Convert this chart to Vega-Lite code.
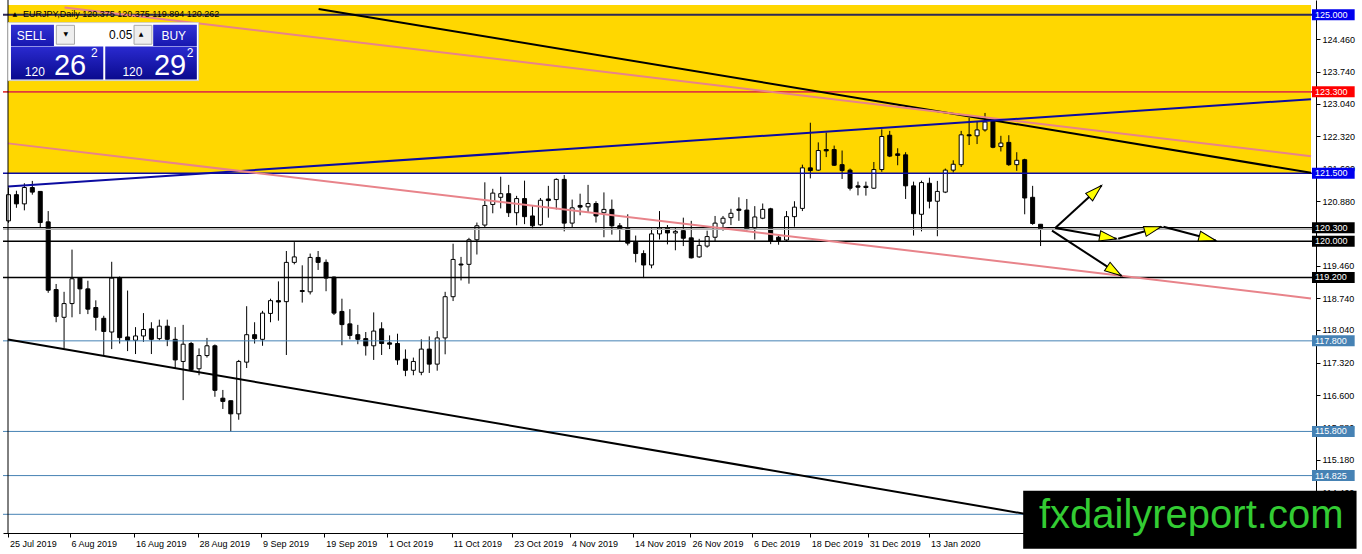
{
  "$schema": "https://vega.github.io/schema/vega-lite/v6.json",
  "width": 1313,
  "height": 533,
  "autosize": {"type": "none"},
  "padding": {"left": 3, "top": 0, "right": 46, "bottom": 21},
  "background": "white",
  "config": {
    "view": {"stroke": null},
    "font": "Liberation Sans",
    "axis": {
      "labelFont": "Liberation Sans",
      "labelFontSize": 9,
      "labelColor": "#000000",
      "tickColor": "#000000",
      "domainColor": "#000000",
      "tickSize": 4,
      "labelPadding": 2,
      "grid": false,
      "labelOverlap": false,
      "labelFlush": false
    }
  },
  "datasets": {
    "candles": [
      {"i":0,"o":120.450,"h":121.186,"l":120.406,"c":121.028},
      {"i":1,"o":121.028,"h":121.115,"l":120.738,"c":120.825},
      {"i":2,"o":120.825,"h":121.280,"l":120.682,"c":121.186},
      {"i":3,"o":121.186,"h":121.332,"l":121.028,"c":121.085},
      {"i":4,"o":121.100,"h":121.100,"l":120.305,"c":120.413},
      {"i":5,"o":120.428,"h":120.666,"l":118.861,"c":118.918},
      {"i":6,"o":118.933,"h":119.056,"l":118.211,"c":118.341},
      {"i":7,"o":118.320,"h":118.883,"l":117.633,"c":118.623},
      {"i":8,"o":118.623,"h":119.815,"l":118.320,"c":119.171},
      {"i":9,"o":119.186,"h":119.208,"l":118.391,"c":118.948},
      {"i":10,"o":118.948,"h":119.128,"l":118.391,"c":118.500},
      {"i":11,"o":118.536,"h":118.695,"l":118.029,"c":118.320},
      {"i":12,"o":118.298,"h":118.354,"l":117.488,"c":118.008},
      {"i":13,"o":117.995,"h":119.546,"l":117.618,"c":119.186},
      {"i":14,"o":119.186,"h":119.221,"l":117.741,"c":117.871},
      {"i":15,"o":117.886,"h":118.911,"l":117.574,"c":117.813},
      {"i":16,"o":117.813,"h":118.103,"l":117.509,"c":117.908},
      {"i":17,"o":117.908,"h":118.413,"l":117.778,"c":118.051},
      {"i":18,"o":118.066,"h":118.211,"l":117.509,"c":117.834},
      {"i":19,"o":117.850,"h":118.268,"l":117.813,"c":118.125},
      {"i":20,"o":118.125,"h":118.268,"l":117.683,"c":117.834},
      {"i":21,"o":117.834,"h":118.103,"l":117.200,"c":117.379},
      {"i":22,"o":117.345,"h":118.153,"l":116.491,"c":117.726},
      {"i":23,"o":117.741,"h":117.778,"l":117.128,"c":117.163},
      {"i":24,"o":117.184,"h":117.633,"l":117.041,"c":117.475},
      {"i":25,"o":117.475,"h":117.865,"l":117.431,"c":117.691},
      {"i":26,"o":117.691,"h":117.720,"l":116.565,"c":116.708},
      {"i":27,"o":116.534,"h":116.716,"l":116.296,"c":116.463},
      {"i":28,"o":116.478,"h":116.478,"l":115.791,"c":116.188},
      {"i":29,"o":116.188,"h":117.379,"l":116.058,"c":117.345},
      {"i":30,"o":117.330,"h":118.565,"l":117.200,"c":117.936},
      {"i":31,"o":117.936,"h":118.211,"l":117.741,"c":117.850},
      {"i":32,"o":117.834,"h":118.463,"l":117.691,"c":118.413},
      {"i":33,"o":118.406,"h":118.731,"l":118.211,"c":118.688},
      {"i":34,"o":118.688,"h":119.113,"l":118.246,"c":118.658},
      {"i":35,"o":118.666,"h":119.784,"l":117.488,"c":119.533},
      {"i":36,"o":119.533,"h":119.980,"l":119.490,"c":119.654},
      {"i":37,"o":118.911,"h":119.468,"l":118.645,"c":118.890},
      {"i":38,"o":118.883,"h":119.728,"l":118.825,"c":119.642},
      {"i":39,"o":119.642,"h":119.784,"l":119.366,"c":119.533},
      {"i":40,"o":119.533,"h":119.598,"l":118.896,"c":119.186},
      {"i":41,"o":119.208,"h":119.221,"l":118.370,"c":118.413},
      {"i":42,"o":118.450,"h":118.731,"l":117.704,"c":118.159},
      {"i":43,"o":118.175,"h":118.500,"l":117.834,"c":117.921},
      {"i":44,"o":117.936,"h":118.153,"l":117.726,"c":117.834},
      {"i":45,"o":117.850,"h":117.995,"l":117.475,"c":117.691},
      {"i":46,"o":117.691,"h":118.428,"l":117.379,"c":118.016},
      {"i":47,"o":118.066,"h":118.211,"l":117.488,"c":117.741},
      {"i":48,"o":117.756,"h":117.921,"l":117.618,"c":117.726},
      {"i":49,"o":117.741,"h":117.958,"l":117.271,"c":117.379},
      {"i":50,"o":117.395,"h":117.611,"l":117.020,"c":117.150},
      {"i":51,"o":117.150,"h":117.431,"l":117.041,"c":117.345},
      {"i":52,"o":117.106,"h":117.834,"l":117.041,"c":117.618},
      {"i":53,"o":117.618,"h":117.899,"l":117.091,"c":117.286},
      {"i":54,"o":117.286,"h":118.016,"l":117.141,"c":117.865},
      {"i":55,"o":117.865,"h":118.883,"l":117.503,"c":118.775},
      {"i":56,"o":118.775,"h":119.945,"l":118.679,"c":119.598},
      {"i":57,"o":119.496,"h":119.654,"l":119.134,"c":119.475},
      {"i":58,"o":119.490,"h":120.075,"l":119.063,"c":120.032},
      {"i":59,"o":120.032,"h":120.413,"l":119.707,"c":120.341},
      {"i":60,"o":120.357,"h":121.301,"l":120.292,"c":120.790},
      {"i":61,"o":120.812,"h":121.158,"l":120.617,"c":121.063},
      {"i":62,"o":120.970,"h":121.425,"l":120.725,"c":121.050},
      {"i":63,"o":121.050,"h":121.245,"l":120.536,"c":120.630},
      {"i":64,"o":120.630,"h":121.002,"l":120.352,"c":120.942},
      {"i":65,"o":120.942,"h":121.338,"l":120.378,"c":120.543},
      {"i":66,"o":120.558,"h":120.775,"l":120.283,"c":120.341},
      {"i":67,"o":120.363,"h":120.955,"l":120.341,"c":120.905},
      {"i":68,"o":120.933,"h":121.223,"l":120.521,"c":120.898},
      {"i":69,"o":120.920,"h":121.388,"l":120.703,"c":121.366},
      {"i":70,"o":121.366,"h":121.462,"l":120.218,"c":120.400},
      {"i":71,"o":120.400,"h":120.920,"l":120.305,"c":120.738},
      {"i":72,"o":120.790,"h":121.050,"l":120.573,"c":120.753},
      {"i":73,"o":120.760,"h":121.245,"l":120.630,"c":120.833},
      {"i":74,"o":120.833,"h":120.883,"l":120.413,"c":120.558},
      {"i":75,"o":120.630,"h":121.078,"l":120.088,"c":120.703},
      {"i":76,"o":120.703,"h":120.920,"l":120.146,"c":120.341},
      {"i":77,"o":120.341,"h":120.400,"l":119.995,"c":120.270},
      {"i":78,"o":120.283,"h":120.595,"l":119.908,"c":119.958},
      {"i":79,"o":119.980,"h":120.125,"l":119.533,"c":119.728},
      {"i":80,"o":119.728,"h":119.800,"l":119.186,"c":119.475},
      {"i":81,"o":119.475,"h":120.283,"l":119.403,"c":120.162},
      {"i":82,"o":120.162,"h":120.666,"l":120.038,"c":120.292},
      {"i":83,"o":120.292,"h":120.357,"l":119.930,"c":120.183},
      {"i":84,"o":120.183,"h":120.305,"l":119.800,"c":120.218},
      {"i":85,"o":120.233,"h":120.521,"l":119.893,"c":120.066},
      {"i":86,"o":120.075,"h":120.450,"l":119.620,"c":119.633},
      {"i":87,"o":119.654,"h":120.053,"l":119.633,"c":119.908},
      {"i":88,"o":119.893,"h":120.233,"l":119.858,"c":120.103},
      {"i":89,"o":120.088,"h":120.558,"l":119.995,"c":120.400},
      {"i":90,"o":120.400,"h":120.558,"l":120.233,"c":120.508},
      {"i":91,"o":120.521,"h":120.716,"l":120.357,"c":120.617},
      {"i":92,"o":120.710,"h":120.970,"l":120.450,"c":120.682},
      {"i":93,"o":120.688,"h":120.933,"l":120.233,"c":120.270},
      {"i":94,"o":120.292,"h":120.775,"l":120.038,"c":120.536},
      {"i":95,"o":120.508,"h":120.833,"l":120.487,"c":120.703},
      {"i":96,"o":120.716,"h":120.738,"l":119.936,"c":119.995},
      {"i":97,"o":120.088,"h":120.125,"l":119.923,"c":120.016},
      {"i":98,"o":120.027,"h":120.666,"l":120.006,"c":120.543},
      {"i":99,"o":120.543,"h":120.883,"l":120.320,"c":120.753},
      {"i":100,"o":120.725,"h":121.691,"l":120.666,"c":121.620},
      {"i":101,"o":121.620,"h":122.617,"l":121.388,"c":121.561},
      {"i":102,"o":121.570,"h":122.183,"l":121.555,"c":122.003},
      {"i":103,"o":122.025,"h":122.400,"l":121.858,"c":121.995},
      {"i":104,"o":122.025,"h":122.112,"l":121.663,"c":121.678},
      {"i":105,"o":121.691,"h":122.003,"l":121.375,"c":121.561},
      {"i":106,"o":121.570,"h":121.605,"l":121.121,"c":121.171},
      {"i":107,"o":121.223,"h":121.316,"l":121.013,"c":121.193},
      {"i":108,"o":121.215,"h":121.316,"l":121.007,"c":121.186},
      {"i":109,"o":121.171,"h":121.750,"l":121.158,"c":121.583},
      {"i":110,"o":121.583,"h":122.471,"l":121.533,"c":122.313},
      {"i":111,"o":122.341,"h":122.437,"l":121.858,"c":121.880},
      {"i":112,"o":121.930,"h":122.053,"l":121.678,"c":121.895},
      {"i":113,"o":121.908,"h":121.966,"l":120.933,"c":121.223},
      {"i":114,"o":121.223,"h":121.316,"l":120.125,"c":120.608},
      {"i":115,"o":120.595,"h":121.338,"l":120.218,"c":121.295},
      {"i":116,"o":121.280,"h":121.403,"l":120.725,"c":120.883},
      {"i":117,"o":120.883,"h":121.332,"l":120.110,"c":121.100},
      {"i":118,"o":121.085,"h":121.605,"l":121.063,"c":121.570},
      {"i":119,"o":121.570,"h":121.787,"l":121.518,"c":121.700},
      {"i":120,"o":121.691,"h":122.437,"l":121.641,"c":122.350},
      {"i":121,"o":122.350,"h":122.725,"l":122.125,"c":122.328},
      {"i":122,"o":122.328,"h":122.653,"l":122.146,"c":122.458},
      {"i":123,"o":122.458,"h":122.833,"l":122.421,"c":122.632},
      {"i":124,"o":122.653,"h":122.688,"l":122.053,"c":122.075},
      {"i":125,"o":122.090,"h":122.328,"l":121.982,"c":122.168},
      {"i":126,"o":122.183,"h":122.341,"l":121.663,"c":121.691},
      {"i":127,"o":121.691,"h":121.966,"l":121.555,"c":121.787},
      {"i":128,"o":121.800,"h":121.821,"l":120.595,"c":120.955},
      {"i":129,"o":120.970,"h":121.223,"l":120.363,"c":120.391},
      {"i":130,"o":120.375,"h":120.375,"l":119.894,"c":120.262}
    ],
    "levels": [
      {"p":125.000,"kind":"navy"},
      {"p":123.300,"kind":"red"},
      {"p":121.500,"kind":"blue"},
      {"p":120.300,"kind":"black"},
      {"p":120.262,"kind":"bid"},
      {"p":120.000,"kind":"black"},
      {"p":119.200,"kind":"black"},
      {"p":117.800,"kind":"steel"},
      {"p":115.800,"kind":"steel"},
      {"p":114.825,"kind":"steel"},
      {"p":113.970,"kind":"steel"}
    ],
    "trends": [
      {"kind":"black","i1":39.0625,"p1":125.130,"i2":164.0625,"p2":121.511},
      {"kind":"pink","i1":7.0625,"p1":125.163,"i2":164.0625,"p2":121.878},
      {"kind":"blue","i1":-0.0625,"p1":121.208,"i2":164.0625,"p2":123.137},
      {"kind":"pink","i1":-0.0625,"p1":122.161,"i2":164.0625,"p2":118.738},
      {"kind":"black","i1":-0.0625,"p1":117.828,"i2":129.5625,"p2":113.934}
    ],
    "arrows": [
      {"i1":131.85,"p1":120.291,"i2":137.69,"p2":121.230},
      {"i1":131.85,"p1":120.291,"i2":139.56,"p2":120.053},
      {"i1":139.78,"p1":120.053,"i2":145.19,"p2":120.320},
      {"i1":145.48,"p1":120.320,"i2":152.06,"p2":120.016},
      {"i1":131.44,"p1":120.233,"i2":140.19,"p2":119.236}
    ],
    "panel": [
      {"part":"bg","x1":-0.0625,"x2":23.9375,"p1":124.827,"p2":123.548},
      {"part":"btn","x1":0.3125,"x2":5.725,"p1":124.783,"p2":124.313},
      {"part":"btn","x1":18.225,"x2":23.725,"p1":124.783,"p2":124.313},
      {"part":"spin","x1":6.025,"x2":8.3125,"p1":124.768,"p2":124.350},
      {"part":"spin","x1":15.8125,"x2":18.0625,"p1":124.768,"p2":124.350},
      {"part":"quote","x1":0.3125,"x2":11.9375,"p1":124.300,"p2":123.570},
      {"part":"quote","x1":12.1875,"x2":23.725,"p1":124.300,"p2":123.570}
    ],
    "paneltext": [
      {"role":"btn","x":2.875,"p":124.534,"t":"SELL"},
      {"role":"btn","x":20.8125,"p":124.534,"t":"BUY"},
      {"role":"lot","x":15.6,"p":124.545,"t":"0.05"},
      {"role":"spin","x":7.225,"p":124.567,"t":"▼"},
      {"role":"spin","x":16.6875,"p":124.567,"t":"▲"},
      {"role":"small","x":2.0625,"p":123.641,"t":"120"},
      {"role":"small","x":14.35,"p":123.641,"t":"120"},
      {"role":"big","x":5.725,"p":123.663,"t":"26"},
      {"role":"big","x":18.3125,"p":123.663,"t":"29"},
      {"role":"sup","x":10.4,"p":124.075,"t":"2"},
      {"role":"sup","x":22.45,"p":124.075,"t":"2"}
    ]
  },
  "layer": [
    {
      "data": {"values": [{}]},
      "mark": {"type": "rect", "color": "#ffd700"},
      "encoding": {
        "x": {
          "datum": -0.0625, "type": "quantitative",
          "scale": {"domain": [-0.0625, 164.0625], "nice": false, "zero": false},
          "axis": {
            "orient": "bottom",
            "title": null,
            "values": [-0.05, 7.69, 15.81, 23.81, 31.81, 39.78, 47.69, 55.81, 63.44, 70.73, 78.65, 85.9, 93.65, 100.94, 108.23, 115.94],
            "labelExpr": "['25 Jul 2019','6 Aug 2019','16 Aug 2019','28 Aug 2019','9 Sep 2019','19 Sep 2019','1 Oct 2019','11 Oct 2019','23 Oct 2019','4 Nov 2019','14 Nov 2019','26 Nov 2019','6 Dec 2019','18 Dec 2019','31 Dec 2019','13 Jan 2020'][indexof([-0.05, 7.69, 15.81, 23.81, 31.81, 39.78, 47.69, 55.81, 63.44, 70.73, 78.65, 85.9, 93.65, 100.94, 108.23, 115.94], datum.value)]",
            "labelAlign": "left",
            "labelBaseline": "top",
            "labelOffset": 1.5
          }
        },
        "x2": {"datum": 164.0625},
        "y": {
          "datum": 125.2167, "type": "quantitative",
          "scale": {"domain": [113.6674, 125.2167], "nice": false, "zero": false},
          "axis": {
            "orient": "right",
            "title": null,
            "values": [124.46, 123.74, 123.04, 122.32, 121.6, 120.88, 119.46, 118.74, 118.04, 117.32, 116.6, 115.88, 115.18, 114.46],
            "format": ".3f",
            "labelAlign": "left",
            "labelBaseline": "middle"
          }
        },
        "y2": {"datum": 121.5}
      }
    },
    {
      "data": {"name": "candles"},
      "mark": {"type": "rule", "color": "#000000", "strokeWidth": 1, "clip": true},
      "encoding": {
        "x": {"field": "i", "type": "quantitative", "scale": {"domain": [-0.0625, 164.0625], "nice": false, "zero": false}},
        "y": {"field": "l", "type": "quantitative", "scale": {"domain": [113.6674, 125.2167], "nice": false, "zero": false}},
        "y2": {"field": "h"}
      }
    },
    {
      "data": {"name": "candles"},
      "mark": {"type": "bar", "size": 4, "stroke": "#000000", "strokeWidth": 1, "clip": true},
      "encoding": {
        "x": {"field": "i", "type": "quantitative", "scale": {"domain": [-0.0625, 164.0625], "nice": false, "zero": false}},
        "y": {"field": "o", "type": "quantitative", "scale": {"domain": [113.6674, 125.2167], "nice": false, "zero": false}},
        "y2": {"field": "c"},
        "fill": {"condition": {"test": "datum.c > datum.o", "value": "#ffffff"}, "value": "#000000"}
      }
    },
    {
      "data": {"name": "levels"},
      "mark": {"type": "rule"},
      "encoding": {
        "y": {"field": "p", "type": "quantitative", "scale": {"domain": [113.6674, 125.2167], "nice": false, "zero": false}},
        "stroke": {"field": "kind", "type": "nominal", "legend": null,
          "scale": {"domain": ["navy", "red", "blue", "black", "bid", "steel"], "range": ["#2e2a55", "#e03c3c", "#0c0ca0", "#000000", "#b4b4b4", "#4682b4"]}},
        "strokeWidth": {"field": "kind", "type": "nominal", "legend": null,
          "scale": {"domain": ["navy", "red", "blue", "black", "bid", "steel"], "range": [2, 1, 2, 1, 1, 1]}}
      }
    },
    {
      "data": {"name": "trends"},
      "mark": {"type": "rule", "strokeWidth": 2, "clip": true},
      "encoding": {
        "x": {"field": "i1", "type": "quantitative", "scale": {"domain": [-0.0625, 164.0625], "nice": false, "zero": false}},
        "x2": {"field": "i2"},
        "y": {"field": "p1", "type": "quantitative", "scale": {"domain": [113.6674, 125.2167], "nice": false, "zero": false}},
        "y2": {"field": "p2"},
        "color": {"field": "kind", "type": "nominal", "legend": null,
          "scale": {"domain": ["black", "pink", "blue"], "range": ["#000000", "#e8838a", "#0c0ca0"]}}
      }
    },
    {
      "data": {"values": [{}]},
      "mark": {"type": "rule", "color": "#000000", "strokeWidth": 1},
      "encoding": {
        "x": {"datum": -0.0625, "type": "quantitative", "scale": {"domain": [-0.0625, 164.0625], "nice": false, "zero": false}}
      }
    },
    {
      "data": {"name": "arrows"},
      "mark": {"type": "rule", "color": "#000000", "strokeWidth": 2},
      "encoding": {
        "x": {"field": "i1", "type": "quantitative", "scale": {"domain": [-0.0625, 164.0625], "nice": false, "zero": false}},
        "x2": {"field": "i2"},
        "y": {"field": "p1", "type": "quantitative", "scale": {"domain": [113.6674, 125.2167], "nice": false, "zero": false}},
        "y2": {"field": "p2"}
      }
    },
    {
      "data": {"name": "arrows"},
      "transform": [
        {"calculate": "atan2((datum.p1 - datum.p2) * 46.15, (datum.i2 - datum.i1) * 8) * 180 / PI", "as": "ang"}
      ],
      "mark": {"type": "point", "shape": "M0,0L-1,-0.3L-1,0.3Z", "size": 1156, "filled": true, "fill": "#ffff00", "stroke": "#000000", "strokeWidth": 1, "opacity": 1},
      "encoding": {
        "x": {"field": "i2", "type": "quantitative", "scale": {"domain": [-0.0625, 164.0625], "nice": false, "zero": false}},
        "y": {"field": "p2", "type": "quantitative", "scale": {"domain": [113.6674, 125.2167], "nice": false, "zero": false}},
        "angle": {"field": "ang", "type": "quantitative", "scale": null}
      }
    },
    {
      "data": {"values": [{"x": 0.8, "t": "▲"}]},
      "mark": {"type": "text", "font": "DejaVu Sans", "fontSize": 6, "color": "#000000", "align": "center", "baseline": "middle"},
      "encoding": {
        "x": {"field": "x", "type": "quantitative", "scale": {"domain": [-0.0625, 164.0625], "nice": false, "zero": false}},
        "y": {"datum": 125.011, "type": "quantitative", "scale": {"domain": [113.6674, 125.2167], "nice": false, "zero": false}},
        "text": {"field": "t"}
      }
    },
    {
      "data": {"values": [{"x": 1.8125, "t": "EURJPY,Daily  120.375 120.375 119.894 120.262"}]},
      "mark": {"type": "text", "font": "Liberation Sans", "fontSize": 9, "color": "#000000", "align": "left", "baseline": "middle"},
      "encoding": {
        "x": {"field": "x", "type": "quantitative", "scale": {"domain": [-0.0625, 164.0625], "nice": false, "zero": false}},
        "y": {"datum": 125.011, "type": "quantitative", "scale": {"domain": [113.6674, 125.2167], "nice": false, "zero": false}},
        "text": {"field": "t"}
      }
    },
    {
      "data": {"name": "panel"},
      "transform": [{"filter": "datum.part == 'bg'"}],
      "mark": {"type": "rect", "fill": "#ffffff", "stroke": "#d0d0d0", "strokeWidth": 1},
      "encoding": {
        "x": {"field": "x1", "type": "quantitative", "scale": {"domain": [-0.0625, 164.0625], "nice": false, "zero": false}},
        "x2": {"field": "x2"},
        "y": {"field": "p1", "type": "quantitative", "scale": {"domain": [113.6674, 125.2167], "nice": false, "zero": false}},
        "y2": {"field": "p2"}
      }
    },
    {
      "data": {"name": "panel"},
      "transform": [{"filter": "datum.part == 'btn'"}],
      "mark": {"type": "rect", "fill": {"gradient": "linear", "x1": 0, "y1": 0, "x2": 0, "y2": 1, "stops": [{"offset": 0, "color": "#3333d6"}, {"offset": 1, "color": "#1717b0"}]}},
      "encoding": {
        "x": {"field": "x1", "type": "quantitative", "scale": {"domain": [-0.0625, 164.0625], "nice": false, "zero": false}},
        "x2": {"field": "x2"},
        "y": {"field": "p1", "type": "quantitative", "scale": {"domain": [113.6674, 125.2167], "nice": false, "zero": false}},
        "y2": {"field": "p2"}
      }
    },
    {
      "data": {"name": "panel"},
      "transform": [{"filter": "datum.part == 'spin'"}],
      "mark": {"type": "rect", "fill": "#eeeeee", "stroke": "#a8a8a8", "strokeWidth": 1},
      "encoding": {
        "x": {"field": "x1", "type": "quantitative", "scale": {"domain": [-0.0625, 164.0625], "nice": false, "zero": false}},
        "x2": {"field": "x2"},
        "y": {"field": "p1", "type": "quantitative", "scale": {"domain": [113.6674, 125.2167], "nice": false, "zero": false}},
        "y2": {"field": "p2"}
      }
    },
    {
      "data": {"name": "panel"},
      "transform": [{"filter": "datum.part == 'quote'"}],
      "mark": {"type": "rect", "fill": {"gradient": "linear", "x1": 0, "y1": 0, "x2": 0, "y2": 1, "stops": [{"offset": 0, "color": "#2a2ad0"}, {"offset": 1, "color": "#0a0a8e"}]}},
      "encoding": {
        "x": {"field": "x1", "type": "quantitative", "scale": {"domain": [-0.0625, 164.0625], "nice": false, "zero": false}},
        "x2": {"field": "x2"},
        "y": {"field": "p1", "type": "quantitative", "scale": {"domain": [113.6674, 125.2167], "nice": false, "zero": false}},
        "y2": {"field": "p2"}
      }
    },
    {
      "data": {"name": "paneltext"},
      "transform": [{"filter": "datum.role == 'btn'"}],
      "mark": {"type": "text", "font": "Liberation Sans", "fontSize": 12, "color": "#ffffff", "align": "center", "baseline": "middle"},
      "encoding": {
        "x": {"field": "x", "type": "quantitative", "scale": {"domain": [-0.0625, 164.0625], "nice": false, "zero": false}},
        "y": {"field": "p", "type": "quantitative", "scale": {"domain": [113.6674, 125.2167], "nice": false, "zero": false}},
        "text": {"field": "t"}
      }
    },
    {
      "data": {"name": "paneltext"},
      "transform": [{"filter": "datum.role == 'lot'"}],
      "mark": {"type": "text", "font": "Liberation Sans", "fontSize": 12, "color": "#000000", "align": "right", "baseline": "middle"},
      "encoding": {
        "x": {"field": "x", "type": "quantitative", "scale": {"domain": [-0.0625, 164.0625], "nice": false, "zero": false}},
        "y": {"field": "p", "type": "quantitative", "scale": {"domain": [113.6674, 125.2167], "nice": false, "zero": false}},
        "text": {"field": "t"}
      }
    },
    {
      "data": {"name": "paneltext"},
      "transform": [{"filter": "datum.role == 'spin'"}],
      "mark": {"type": "text", "font": "DejaVu Sans", "fontSize": 6, "color": "#000000", "align": "center", "baseline": "middle"},
      "encoding": {
        "x": {"field": "x", "type": "quantitative", "scale": {"domain": [-0.0625, 164.0625], "nice": false, "zero": false}},
        "y": {"field": "p", "type": "quantitative", "scale": {"domain": [113.6674, 125.2167], "nice": false, "zero": false}},
        "text": {"field": "t"}
      }
    },
    {
      "data": {"name": "paneltext"},
      "transform": [{"filter": "datum.role == 'small'"}],
      "mark": {"type": "text", "font": "Liberation Sans", "fontSize": 12, "color": "#ffffff", "align": "left", "baseline": "alphabetic"},
      "encoding": {
        "x": {"field": "x", "type": "quantitative", "scale": {"domain": [-0.0625, 164.0625], "nice": false, "zero": false}},
        "y": {"field": "p", "type": "quantitative", "scale": {"domain": [113.6674, 125.2167], "nice": false, "zero": false}},
        "text": {"field": "t"}
      }
    },
    {
      "data": {"name": "paneltext"},
      "transform": [{"filter": "datum.role == 'big'"}],
      "mark": {"type": "text", "font": "Liberation Sans", "fontSize": 29, "color": "#ffffff", "align": "left", "baseline": "alphabetic"},
      "encoding": {
        "x": {"field": "x", "type": "quantitative", "scale": {"domain": [-0.0625, 164.0625], "nice": false, "zero": false}},
        "y": {"field": "p", "type": "quantitative", "scale": {"domain": [113.6674, 125.2167], "nice": false, "zero": false}},
        "text": {"field": "t"}
      }
    },
    {
      "data": {"name": "paneltext"},
      "transform": [{"filter": "datum.role == 'sup'"}],
      "mark": {"type": "text", "font": "Liberation Sans", "fontSize": 12, "color": "#ffffff", "align": "left", "baseline": "alphabetic"},
      "encoding": {
        "x": {"field": "x", "type": "quantitative", "scale": {"domain": [-0.0625, 164.0625], "nice": false, "zero": false}},
        "y": {"field": "p", "type": "quantitative", "scale": {"domain": [113.6674, 125.2167], "nice": false, "zero": false}},
        "text": {"field": "t"}
      }
    },
    {
      "data": {"name": "levels"},
      "transform": [{"filter": "datum.kind != 'bid' && datum.p > 114.5"}],
      "mark": {"type": "bar", "size": 11},
      "encoding": {
        "x": {"datum": 164.1875, "type": "quantitative", "scale": {"domain": [-0.0625, 164.0625], "nice": false, "zero": false}},
        "x2": {"datum": 169.5625},
        "y": {"field": "p", "type": "quantitative", "scale": {"domain": [113.6674, 125.2167], "nice": false, "zero": false}},
        "fill": {"field": "kind", "type": "nominal", "legend": null,
          "scale": {"domain": ["navy", "red", "blue", "black", "steel"], "range": ["#0000ee", "#ff0000", "#0000ee", "#000000", "#4682b4"]}}
      }
    },
    {
      "data": {"name": "levels"},
      "transform": [{"filter": "datum.kind != 'bid' && datum.p > 114.5"}],
      "mark": {"type": "text", "font": "Liberation Sans", "fontSize": 9, "color": "#ffffff", "align": "left", "baseline": "middle"},
      "encoding": {
        "x": {"datum": 164.5625, "type": "quantitative", "scale": {"domain": [-0.0625, 164.0625], "nice": false, "zero": false}},
        "y": {"field": "p", "type": "quantitative", "scale": {"domain": [113.6674, 125.2167], "nice": false, "zero": false}},
        "text": {"field": "p", "type": "quantitative", "format": ".3f"}
      }
    },
    {
      "data": {"values": [{}]},
      "mark": {"type": "rect", "color": "#000000"},
      "encoding": {
        "x": {"datum": 127.81, "type": "quantitative", "scale": {"domain": [-0.0625, 164.0625], "nice": false, "zero": false}},
        "x2": {"datum": 169.8},
        "y": {"datum": 114.491, "type": "quantitative", "scale": {"domain": [113.6674, 125.2167], "nice": false, "zero": false}},
        "y2": {"datum": 113.21}
      }
    },
    {
      "data": {"values": [{"t": "fxdailyreport.com"}]},
      "mark": {"type": "text", "font": "Liberation Sans", "fontSize": 40, "color": "#33cc33", "align": "left", "baseline": "alphabetic"},
      "encoding": {
        "x": {"datum": 129.79, "type": "quantitative", "scale": {"domain": [-0.0625, 164.0625], "nice": false, "zero": false}},
        "y": {"datum": 113.6674, "type": "quantitative", "scale": {"domain": [113.6674, 125.2167], "nice": false, "zero": false}},
        "text": {"field": "t"}
      }
    }
  ]
}
